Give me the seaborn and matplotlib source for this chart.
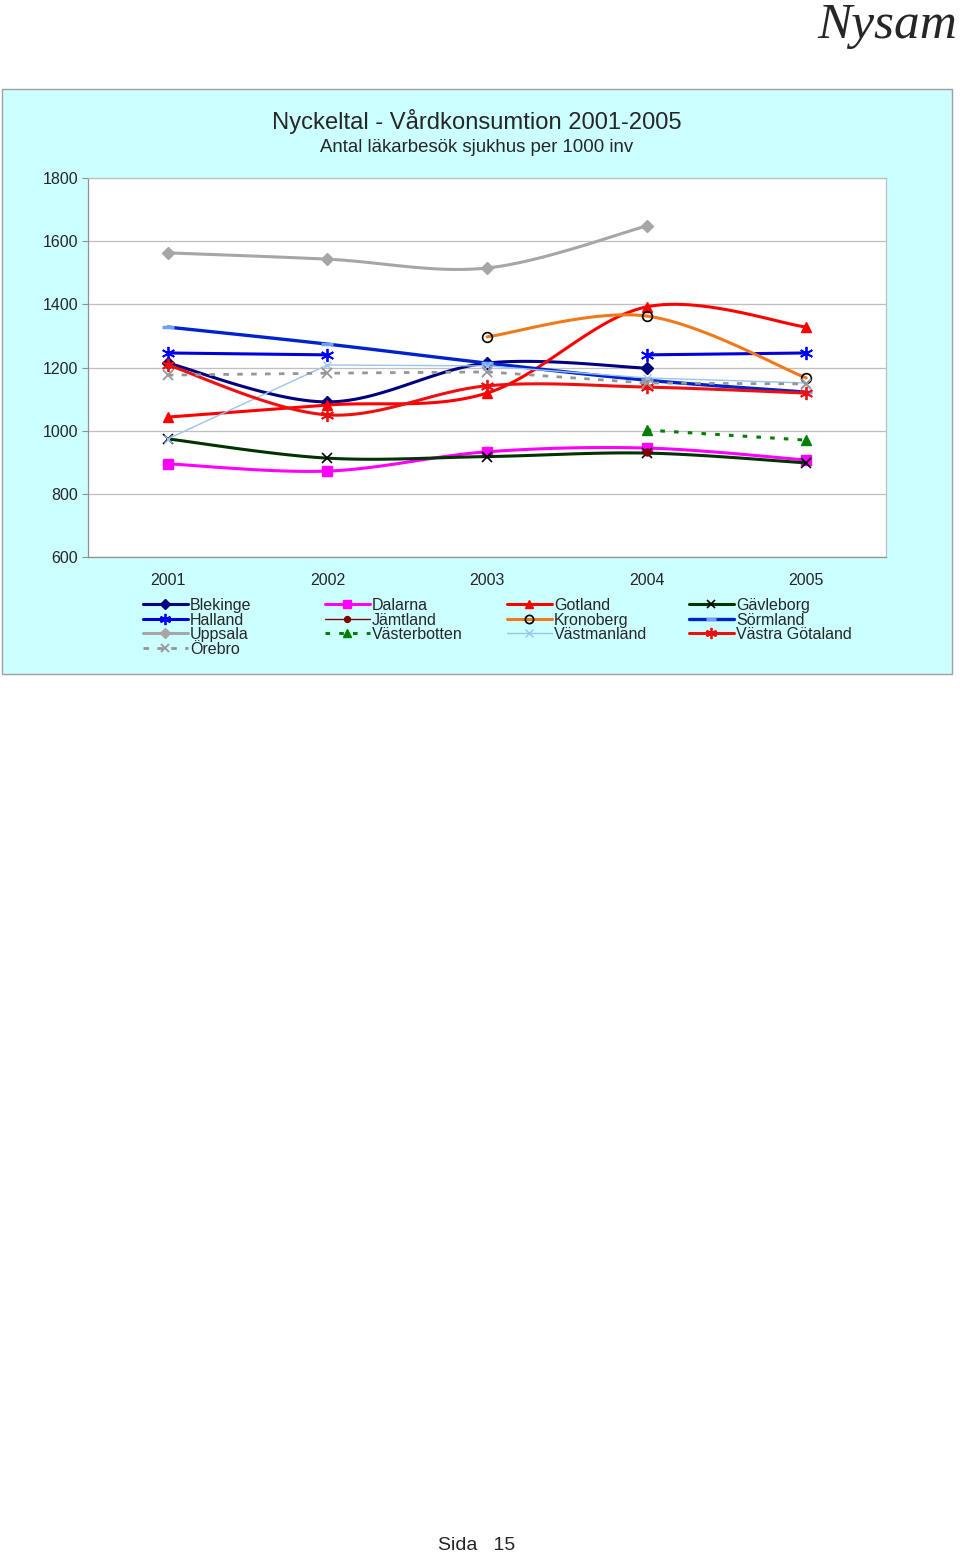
import numpy as np
import pandas as pd
import matplotlib
matplotlib.use("Agg")
import matplotlib.pyplot as plt
import seaborn as sns
from matplotlib.patches import Rectangle
from matplotlib.lines import Line2D

# ---------------- data ----------------
years = ["2001", "2002", "2003", "2004", "2005"]
nan = np.nan
blekinge = [1214, 1091, 1214, 1198, nan]
dalarna = [895, 872, 933, 945, 907]
gotland = [1043, 1081, 1119, 1392, 1328]
gavleborg = [974, 913, 918, 929, 898]
halland = [1246, 1240, nan, 1240, 1246]
jamtland = [1212, nan, nan, 932, nan]
kronoberg = [nan, nan, 1297, 1363, 1167]
sormland = [1328, 1274, 1214, 1160, 1122]
uppsala = [1563, 1543, 1515, 1648, nan]
vasterbotten = [nan, nan, nan, 1002, 970]
vastmanland = [974, 1208, 1205, 1167, 1151]
vastra_gotaland = [1208, 1050, 1142, 1138, 1119]
orebro = [1176, 1182, 1186, 1151, 1148]

names = ["Blekinge", "Dalarna", "Gotland", "Gävleborg", "Halland", "Jämtland",
         "Kronoberg", "Sörmland", "Uppsala", "Västerbotten", "Västmanland",
         "Västra Götaland", "Örebro"]
values = [blekinge, dalarna, gotland, gavleborg, halland, jamtland, kronoberg,
          sormland, uppsala, vasterbotten, vastmanland, vastra_gotaland, orebro]

AST = (6, 2, 0)
styles = {
    "Blekinge": dict(color="#000080", marker="D", mfc="#000080", mec="#000080", ms=6.5, lw=2.2, ls="-", smooth=True),
    "Dalarna": dict(color="#FF00FF", marker="s", mfc="#FF00FF", mec="#FF00FF", ms=7, lw=2.2, ls="-", smooth=True),
    "Gotland": dict(color="#FF0000", marker="^", mfc="#FF0000", mec="#FF0000", ms=7.5, lw=2.2, ls="-", smooth=True),
    "Gävleborg": dict(color="#003300", marker="x", mfc="none", mec="#000000", ms=7, lw=2.2, ls="-", smooth=True, mew=1.2),
    "Halland": dict(color="#0000DD", marker=AST, mfc="#0000FF", mec="#0000FF", ms=9.5, lw=2.2, ls="-", smooth=True, mew=1.3),
    "Jämtland": dict(color="#800000", marker="o", mfc="#800000", mec="#800000", ms=5, lw=1.0, ls="-", smooth=True),
    "Kronoberg": dict(color="#F07A1A", marker="o", mfc="none", mec="#000000", ms=7, lw=2.2, ls="-", smooth=True, mew=1.2),
    "Sörmland": dict(color="#0022CC", marker="_", mfc="#6F9FFF", mec="#6F9FFF", ms=9, lw=2.4, ls="-", smooth=True, mew=2.5),
    "Uppsala": dict(color="#A6A6A6", marker="D", mfc="#A6A6A6", mec="#A6A6A6", ms=6, lw=2.2, ls="-", smooth=True),
    "Västerbotten": dict(color="#008000", marker="^", mfc="#008000", mec="#008000", ms=7.5, lw=2.2, ls=(0, (1.5, 3)), smooth=False),
    "Västmanland": dict(color="#99C4EE", marker="x", mfc="none", mec="#99C4EE", ms=6, lw=1.0, ls="-", smooth=False, mew=1.0),
    "Västra Götaland": dict(color="#EE1010", marker=AST, mfc="#EE1010", mec="#EE1010", ms=9.5, lw=2.2, ls="-", smooth=True, mew=1.3),
    "Örebro": dict(color="#969696", marker="x", mfc="none", mec="#969696", ms=7, lw=2.0, ls=(0, (2, 3)), smooth=False, mew=1.3),
}

# ---------------- helpers ----------------
def runs(vals):
    xs, ys, out = [], [], []
    for i, v in enumerate(vals):
        if np.isnan(v):
            if xs:
                out.append((xs, ys))
            xs, ys = [], []
        else:
            xs.append(i)
            ys.append(v)
    if xs:
        out.append((xs, ys))
    return out


def smooth_curve(xs, ys, n=30):
    P = np.column_stack([xs, ys]).astype(float)
    m = len(P)
    if m < 3:
        return P[:, 0], P[:, 1]
    cx, cy = [P[0, 0]], [P[0, 1]]
    t = np.linspace(0, 1, n)[1:]
    for i in range(m - 1):
        p0 = P[max(i - 1, 0)]
        p1 = P[i]
        p2 = P[i + 1]
        p3 = P[min(i + 2, m - 1)]
        c1 = p1 + (p2 - p0) / 6.0
        c2 = p2 - (p3 - p1) / 6.0
        b = ((1 - t) ** 3)[:, None] * p1 + (3 * (1 - t) ** 2 * t)[:, None] * c1 + \
            (3 * (1 - t) * t ** 2)[:, None] * c2 + (t ** 3)[:, None] * p2
        cx.extend(b[:, 0])
        cy.extend(b[:, 1])
    return np.array(cx), np.array(cy)


# ---------------- figure ----------------
sns.set_style("white")
plt.rcParams["font.family"] = ["Liberation Sans", "DejaVu Sans"]

fig = plt.figure(figsize=(9.6, 15.54), dpi=100)
W, H = 960.0, 1554.0

fig.patches.append(Rectangle((2 / W, 1 - 674 / H), 950 / W, 585 / H,
                             transform=fig.transFigure, facecolor="#CCFFFF",
                             edgecolor="#A0A0A0", lw=1.0, zorder=0))

fig.text(957 / W, 1 - 38 / H, "Nysam", ha="right", va="baseline",
         fontsize=37, style="italic", family=["Liberation Serif", "DejaVu Serif"])
fig.text(477 / W, 1 - 121 / H, "Nyckeltal - Vårdkonsumtion 2001-2005",
         ha="center", va="center", fontsize=17.1)
fig.text(477 / W, 1 - 147 / H, "Antal läkarbesök sjukhus per 1000 inv",
         ha="center", va="center", fontsize=13.4)
fig.text(477 / W, 1 - 1545 / H, "Sida   15", ha="center", va="center", fontsize=14)

ax = fig.add_axes([88 / W, 1 - 557 / H, 798 / W, 379 / H])
ax.set_facecolor("white")
ax.set_zorder(2)

for name, vals in zip(names, values):
    st = styles[name]
    for xs, ys in runs(vals):
        if len(xs) >= 2:
            if st["smooth"]:
                cx, cy = smooth_curve(xs, ys)
            else:
                cx, cy = np.array(xs, float), np.array(ys, float)
            sns.lineplot(x=cx, y=cy, ax=ax, sort=False, estimator=None,
                         color=st["color"], lw=st["lw"], linestyle=st["ls"],
                         legend=False)
        ax.plot(xs, ys, linestyle="none", marker=st["marker"], ms=st["ms"],
                mfc=st["mfc"], mec=st["mec"], mew=st.get("mew", 1.0))

ax.set_xlim(-0.5, 4.5)
ax.set_ylim(600, 1800)
ax.set_yticks(np.arange(600, 1801, 200))
ax.set_xticks(range(len(years)))
ax.set_xticklabels(years)
ax.set_xticks(np.arange(-0.5, 4.6, 1), minor=True)
ax.yaxis.grid(True, color="#BFBFBF", lw=0.9)
ax.set_axisbelow(True)
ax.tick_params(axis="x", which="major", length=0, pad=11.5, labelsize=11.5)
ax.tick_params(axis="x", which="minor", length=4, color="#909090", width=0.8, direction="out")
ax.tick_params(axis="y", length=4, color="#909090", width=0.8, pad=3, labelsize=11.5, left=True)
for s in ["left", "bottom"]:
    ax.spines[s].set_color("#909090")
    ax.spines[s].set_linewidth(0.9)
for s in ["top", "right"]:
    ax.spines[s].set_color("#BFBFBF")
    ax.spines[s].set_linewidth(0.9)
ax.set_xlabel("")
ax.set_ylabel("")

# ---------------- legend (4 columns, row-major like the original) ----------------
def handle(name):
    st = styles[name]
    return Line2D([0], [0], color=st["color"], lw=st["lw"], linestyle=st["ls"],
                  marker=st["marker"], ms=st["ms"] * 0.85, mfc=st["mfc"],
                  mec=st["mec"], mew=st.get("mew", 1.0))

columns = [["Blekinge", "Halland", "Uppsala", "Örebro"],
           ["Dalarna", "Jämtland", "Västerbotten"],
           ["Gotland", "Kronoberg", "Västmanland"],
           ["Gävleborg", "Sörmland", "Västra Götaland"]]
col_x = [143, 325, 507, 689]
for cx0, col in zip(col_x, columns):
    fig.legend(handles=[handle(n) for n in col], labels=col, loc="upper left",
               bbox_to_anchor=(cx0 / W, 1 - 598 / H), frameon=False,
               fontsize=11.5, handlelength=2.8, handletextpad=0.15,
               labelspacing=-0.03, borderpad=0, borderaxespad=0)

fig.savefig("out.png", dpi=100, facecolor="white")
